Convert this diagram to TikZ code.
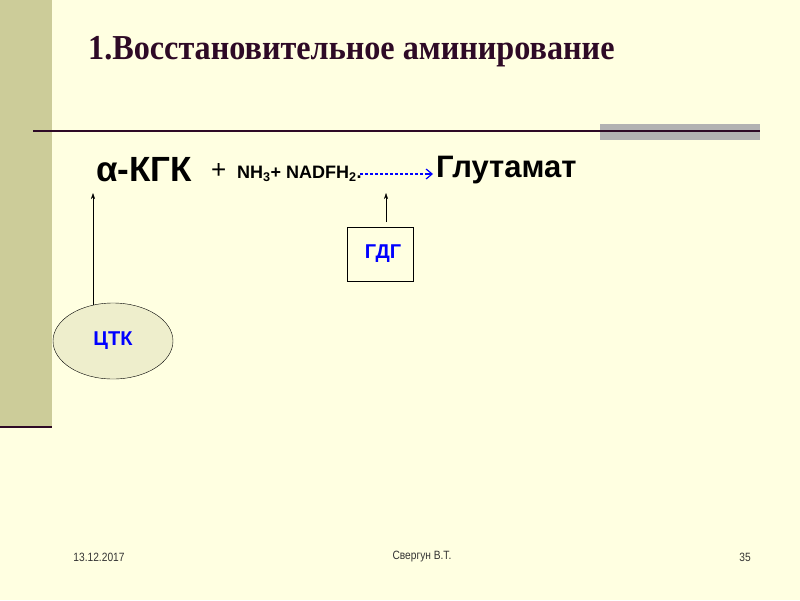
\documentclass[tikz,border=0pt]{standalone}
\usepackage{fontspec}
\setmainfont{Liberation Sans}
\newfontfamily\titlefont[FakeStretch=0.92]{Liberation Serif}
\newfontfamily\footfont[FakeStretch=0.85]{Liberation Sans}
\usetikzlibrary{shapes.geometric,arrows.meta}
\definecolor{bg}{HTML}{FFFFE1}
\definecolor{olive}{HTML}{CCCC99}
\definecolor{dark}{HTML}{2E0A26}
\definecolor{ell}{HTML}{EEEECC}
\begin{document}
\begin{tikzpicture}[x=1pt,y=-1pt,
  lbl/.style={font=\bfseries\fontsize{20}{22}\selectfont,text=blue},
  foot/.style={font=\footfont\fontsize{12}{14}\selectfont,text=black!80}]
\useasboundingbox (0,0) rectangle (800,600);
\fill[bg] (0,0) rectangle (800,600);
\fill[olive] (0,0) rectangle (52,427);
\draw[dark,line width=2.5pt] (0,427) -- (52,427);
\fill[black!30] (600,124) rectangle (760,140);
\draw[dark,line width=2pt] (33,131) -- (760,131);
\node[anchor=west,text=dark,font=\titlefont\bfseries\fontsize{35}{38}\selectfont,inner sep=0] (title) at (88,52) {1.Восстановительное аминирование};
\node[anchor=west,font=\bfseries\fontsize{35}{37}\selectfont,inner sep=0] (akg) at (96,170) {α-КГК};
\node[anchor=west,font=\fontsize{26}{28}\selectfont,inner sep=0] (plus) at (211,171) {+};
\node[anchor=west,font=\bfseries\fontsize{18}{20}\selectfont,inner sep=0] (nh) at (237,174) {NH\textsubscript{3}+ NADFH\textsubscript{2}.};
\coordinate (ds) at (360,174);
\coordinate (de) at (433,174);
\draw[blue,line width=1.2pt,dash pattern=on 3pt off 2pt] (ds) -- ++(66,0);
\draw[blue,line width=1.2pt,-{Straight Barb[length=6pt,width=10pt]}] (426,174) -- (de);
\node[anchor=west,font=\bfseries\fontsize{31}{33}\selectfont,inner sep=0] (glu) at (436,170) {Глутамат};
\node[draw,fill=bg,minimum width=66pt,minimum height=54pt,lbl] (gdg) at (380,254) {\hspace{6pt}ГДГ};
\node[draw,ellipse,fill=ell,minimum width=120pt,minimum height=76pt,lbl] (tck) at (113,341) {ЦТК\hspace{18pt}};
\coordinate (a1) at (93,193);
\coordinate (a2) at (386,193);
\draw[-{Stealth[length=6pt,width=4pt]}] (93,305) -- (a1);
\draw[-{Stealth[length=6pt,width=4pt]}] (386,222) -- (a2);
\node[foot] (d) at (99,557) {13.12.2017};
\node[foot] (au) at (422,557) {Свергун В.Т.};
\node[foot] (pg) at (745,557) {35};
\end{tikzpicture}
\end{document}
